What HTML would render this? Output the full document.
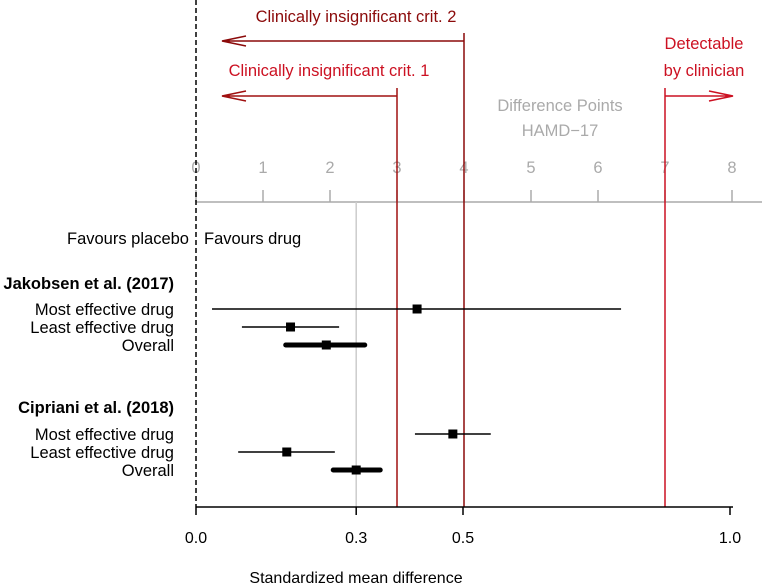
<!DOCTYPE html>
<html><head><meta charset="utf-8"><style>
body{margin:0;background:#fff}
svg{display:block;font-family:"Liberation Sans",Arial,sans-serif}
</style></head><body>
<svg width="765" height="585" viewBox="0 0 765 585">
<g id="static">
  <line x1="196" y1="202" x2="762" y2="202" stroke="#aaa" stroke-width="1.5"/>
  <text x="560" y="111" fill="#aaa" font-size="16.5" text-anchor="middle">Difference Points</text>
  <text x="560" y="136" fill="#aaa" font-size="16.5" text-anchor="middle">HAMD−17</text>
  <text x="356" y="22" fill="#8b0a0a" font-size="16.5" text-anchor="middle">Clinically insignificant crit. 2</text>
  <text x="329" y="76" fill="#cc1122" font-size="16.5" text-anchor="middle">Clinically insignificant crit. 1</text>
  <text x="704" y="49" fill="#cc1122" font-size="16.5" text-anchor="middle">Detectable</text>
  <text x="704" y="76" fill="#cc1122" font-size="16.5" text-anchor="middle">by clinician</text>
  <text x="189" y="244" font-size="16.5" text-anchor="end">Favours placebo</text>
  <text x="204" y="244" font-size="16.5">Favours drug</text>
  <text x="174" y="289" font-size="16.5" font-weight="bold" text-anchor="end">Jakobsen et al. (2017)</text>
  <text x="174" y="413" font-size="16.5" font-weight="bold" text-anchor="end">Cipriani et al. (2018)</text>
  <text x="356" y="583" font-size="16" text-anchor="middle">Standardized mean difference</text>
</g>
<g id="dyn"></g>
</svg>
<script>
const hamdTicks=[0,1,2,3,4,5,6,7,8];
const smdTicks=[0.0,0.3,0.5,1.0];
const smdTickLabels=["0.0","0.3","0.5","1.0"];
const rowLabels=["Most effective drug","Least effective drug","Overall","Most effective drug","Least effective drug","Overall"];
const estimates=[0.414,0.177,0.244,0.481,0.170,0.300];
const lowerCI=[0.030,0.086,0.168,0.410,0.079,0.257];
const upperCI=[0.796,0.268,0.316,0.552,0.260,0.345];
const isOverall=[false,false,true,false,false,true];
const rowY=[309,327,345,434,452,470];
const critLines=[3,4,7];

const NS="http://www.w3.org/2000/svg";
const g=document.getElementById('dyn');
const xs=v=>196+v*534;
const xh=p=>196+p*67;
function mk(t,a){const e=document.createElementNS(NS,t);for(const k in a)e.setAttribute(k,a[k]);g.appendChild(e);return e;}

hamdTicks.forEach(t=>{
  const l=mk('line',{x1:xh(t),x2:xh(t),y1:190,y2:202,stroke:'#aaa','stroke-width':1.5});
  
  
  const tx=mk('text',{x:xh(t),y:173,fill:'#aaa','font-size':16.5,'text-anchor':'middle'});
  tx.textContent=t;
  
  
});

let gl=mk('line',{x1:xs(0.3),x2:xs(0.3),y1:202,y2:507,stroke:'#ccc','stroke-width':1.5});



const cols=['#a01010','#8b0a0a','#cc1122'];
const tops=[88,33,88];
critLines.forEach((c,i)=>{
  const l=mk('line',{x1:xh(c),x2:xh(c),y1:tops[i],y2:507,stroke:cols[i],'stroke-width':1.5});
  
  
  const y=tops[i]+8;
  const toX=i<2?222:733;
  const a=mk('path',{d:`M${xh(c)},${y}H${toX}M${toX+(i<2?24:-24)},${y-5}L${toX},${y}L${toX+(i<2?24:-24)},${y+5}`,fill:'none',stroke:cols[i],'stroke-width':1.5});
  
  
});

let dl=mk('line',{x1:196,x2:196,y1:0,y2:507,stroke:'#000','stroke-width':1.5,'stroke-dasharray':'5,3'});



let ax=mk('line',{x1:196,x2:733,y1:507,y2:507,stroke:'#000','stroke-width':1.5});


smdTicks.forEach((t,i)=>{
  const l=mk('line',{x1:xs(t),x2:xs(t),y1:507,y2:515,stroke:'#000','stroke-width':1.5});
  
  
  const tx=mk('text',{x:xs(t),y:543,'font-size':16,'text-anchor':'middle'});
  tx.textContent=smdTickLabels[i];
  
  
});

estimates.forEach((e,i)=>{
  const y=rowY[i];
  const lb=mk('text',{x:174,y:y+6,'font-size':16.5,'text-anchor':'end'});
  lb.textContent=rowLabels[i];
  
  
  const ci=mk('line',{x1:xs(lowerCI[i]),x2:xs(upperCI[i]),y1:y,y2:y,stroke:'#000','stroke-width':isOverall[i]?5:1.5,'stroke-linecap':isOverall[i]?'round':'butt'});
  
  
  const pt=mk('rect',{x:xs(e)-4.5,y:y-4.5,width:9,height:9,fill:'#000'});
  
  
});
</script>
</body></html>
